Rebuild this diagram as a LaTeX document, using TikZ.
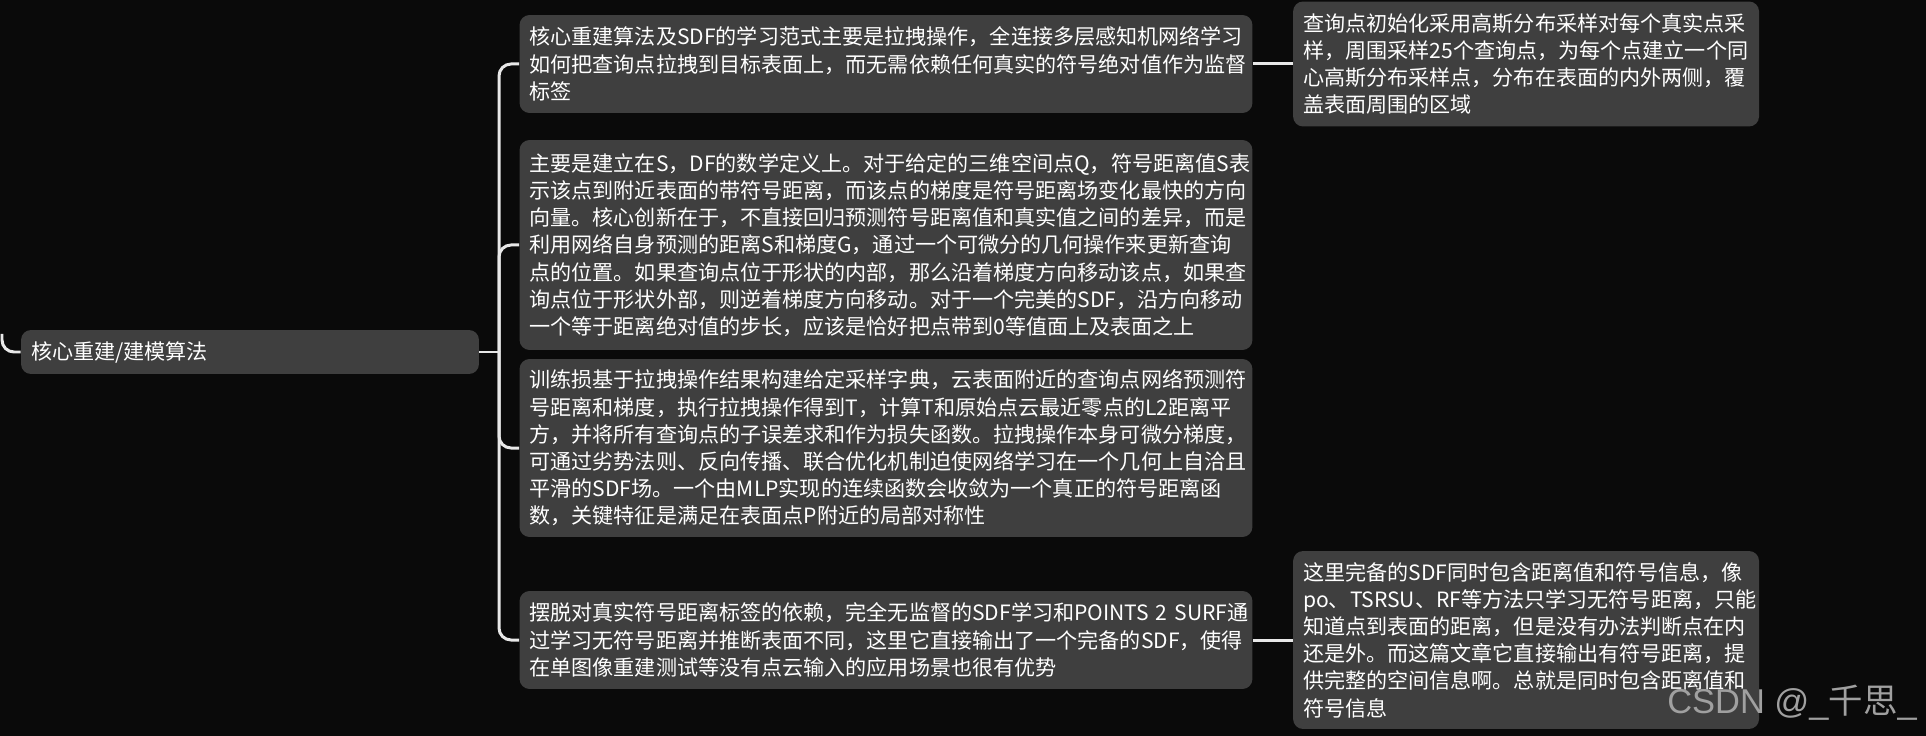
\documentclass[tikz,border=0pt]{standalone}
\usepackage{fontspec}
\setmainfont{Noto Sans CJK SC}
\newfontfamily\markfont{Liberation Sans}
\newfontfamily\cjkfont{Noto Sans CJK SC}
\usetikzlibrary{positioning}
\definecolor{pagebg}{HTML}{0A0A0A}
\definecolor{cardgray}{HTML}{3F3F3F}
\definecolor{wirewhite}{HTML}{E8E8E8}
\definecolor{markgray}{HTML}{A0A0A0}

\begin{document}
\begin{tikzpicture}[x=0.02cm, y=-0.02cm,
    card/.style={fill=cardgray, rounded corners=0.2cm, text=white, align=left,
        inner xsep=0.2cm, inner ysep=0pt, font=\fontsize{12}{15.5}\selectfont},
    widecard/.style={card, text width=14.26cm},
    sidecard/.style={card, text width=8.92cm},
    wire/.style={wirewhite, line width=0.06cm, rounded corners=0.24cm}]
    \fill[pagebg] (0,0) rectangle (1926,736);
    \useasboundingbox (0,0) rectangle (1926,736);

    % topic and its four branches
    \node[card, text width=8.76cm, minimum height=0.88cm] (algo) at (250,352) {核心重建/建模算法};
    \node[widecard, minimum height=1.96cm] (core) at (886,64)
        {核心重建算法及SDF的学习范式主要是拉拽操作，全连接多层感知机网络学习\\
         如何把查询点拉拽到目标表面上，而无需依赖任何真实的符号绝对值作为监督\\
         标签};
    \node[widecard, minimum height=4.2cm] (grad) at (886,245)
        {主要是建立在S，DF的数学定义上。对于给定的三维空间点Q，符号距离值S表\\
         示该点到附近表面的带符号距离，而该点的梯度是符号距离场变化最快的方向\\
         向量。核心创新在于，不直接回归预测符号距离值和真实值之间的差异，而是\\
         利用网络自身预测的距离S和梯度G，通过一个可微分的几何操作来更新查询\\
         点的位置。如果查询点位于形状的内部，那么沿着梯度方向移动该点，如果查\\
         询点位于形状外部，则逆着梯度方向移动。对于一个完美的SDF，沿方向移动\\
         一个等于距离绝对值的步长，应该是恰好把点带到0等值面上及表面之上};
    \node[widecard, minimum height=3.56cm] (loss) at (886,448)
        {训练损基于拉拽操作结果构建给定采样字典，云表面附近的查询点网络预测符\\
         号距离和梯度，执行拉拽操作得到T，计算T和原始点云最近零点的L2距离平\\
         方，并将所有查询点的子误差求和作为损失函数。拉拽操作本身可微分梯度，\\
         可通过劣势法则、反向传播、联合优化机制迫使网络学习在一个几何上自洽且\\
         平滑的SDF场。一个由MLP实现的连续函数会收敛为一个真正的符号距离函\\
         数，关键特征是满足在表面点P附近的局部对称性};
    \node[widecard, minimum height=1.96cm] (free) at (886,640)
        {摆脱对真实符号距离标签的依赖，完全无监督的SDF学习和POINTS~2~SURF通\\
         过学习无符号距离并推断表面不同，这里它直接输出了一个完备的SDF，使得\\
         在单图像重建测试等没有点云输入的应用场景也很有优势};

    % notes on the right
    \node[sidecard, minimum height=2.5cm, right=0.8cm of core] (init)
        {查询点初始化采用高斯分布采样对每个真实点采\\
         样，周围采样25个查询点，为每个点建立一个同\\
         心高斯分布采样点，分布在表面的内外两侧，覆\\
         盖表面周围的区域};
    \node[sidecard, minimum height=3.56cm, right=0.8cm of free] (signed)
        {这里完备的SDF同时包含距离值和符号信息，像\\
         po、TSRSU、RF等方法只学习无符号距离，只能\\
         知道点到表面的距离，但是没有办法判断点在内\\
         还是外。而这篇文章它直接输出有符号距离，提\\
         供完整的空间信息啊。总就是同时包含距离值和\\
         符号信息};

    \coordinate (stub) at (2,334);
    \coordinate (fork) at (499,352);
    \draw[wire] (stub) |- (algo.west);
    \draw[wire] (algo.east) -- (fork);
    \foreach \leaf in {core,grad,loss,free}
        \draw[wire] (fork) |- (\leaf.west);
    \draw[wire] (core) -- (init);
    \draw[wire] (free) -- (signed);

    \node[anchor=west, inner sep=0pt, text=markgray, font=\markfont\fontsize{19.6}{21}\selectfont] (mark)
        at (1667,703) {CSDN @\_{\cjkfont 千思}\_};
\end{tikzpicture}
\end{document}
